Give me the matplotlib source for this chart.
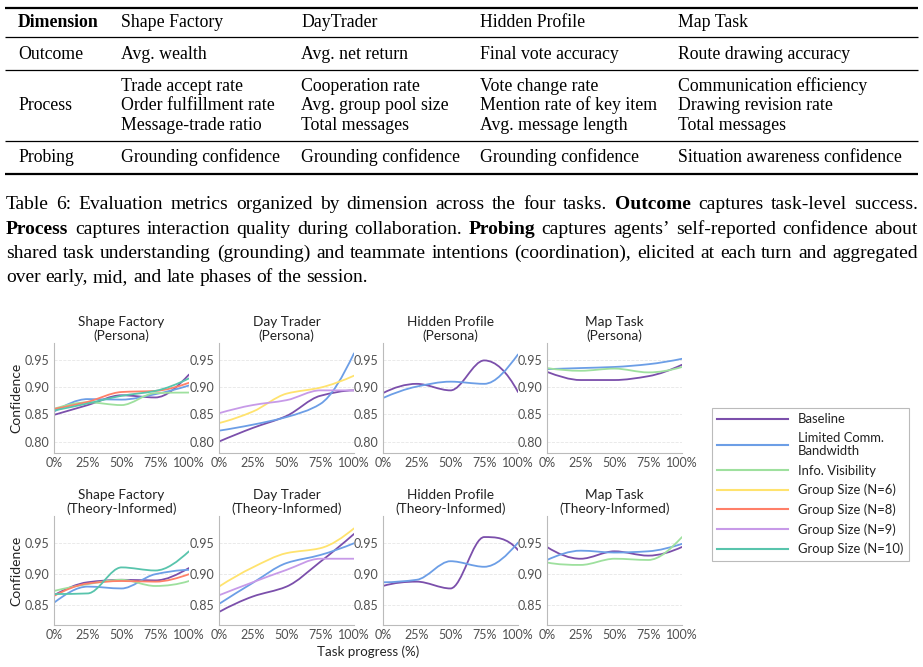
import matplotlib
matplotlib.use("Agg")
import matplotlib.pyplot as plt
import numpy as np
from matplotlib.path import Path
from matplotlib.patches import PathPatch
from matplotlib.lines import Line2D

W, H = 923, 667

# ---- table + caption text ----
table_header = ["Dimension", "Shape Factory", "DayTrader", "Hidden Profile", "Map Task"]
table_outcome = ["Outcome", "Avg. wealth", "Avg. net return", "Final vote accuracy",
                 "Route drawing accuracy"]
table_process = ["Process",
                 ["Trade accept rate", "Order fulfillment rate", "Message-trade ratio"],
                 ["Cooperation rate", "Avg. group pool size", "Total messages"],
                 ["Vote change rate", "Mention rate of key item", "Avg. message length"],
                 ["Communication efficiency", "Drawing revision rate", "Total messages"]]
table_probing = ["Probing", "Grounding confidence", "Grounding confidence",
                 "Grounding confidence", "Situation awareness confidence"]

caption_lines = [
    "Table 6: Evaluation metrics organized by dimension across the four tasks. "
    "**Outcome** captures task-level success.",
    "**Process** captures interaction quality during collaboration. **Probing** captures "
    "agents’ self-reported confidence about",
    "shared task understanding (grounding) and teammate intentions (coordination), "
    "elicited at each turn and aggregated",
    "over early, mid, and late phases of the session.",
]

# ---- chart data ----
progress = [0, 25, 50, 75, 100]
progress_labels = ["0%", "25%", "50%", "75%", "100%"]

cond_keys = ["base", "comm", "info", "n6", "n8", "n9", "n10"]
cond_labels = ["Baseline", "Limited Comm.\nBandwidth", "Info. Visibility",
               "Group Size (N=6)", "Group Size (N=8)", "Group Size (N=9)",
               "Group Size (N=10)"]
cond_colors = ["#7b4fab", "#6c9ee6", "#9ee09e", "#ffe36e", "#ff7f68", "#c79ae8", "#58c4ac"]

shape_persona = {
    "base": [0.849, 0.867, 0.885, 0.881, 0.923],
    "comm": [0.855, 0.878, 0.877, 0.887, 0.903],
    "info": [0.860, 0.872, 0.867, 0.889, 0.890],
    "n8": [0.860, 0.873, 0.891, 0.893, 0.908],
    "n10": [0.857, 0.870, 0.884, 0.893, 0.916],
}
trader_persona = {
    "base": [0.800, 0.825, 0.847, 0.884, 0.894],
    "comm": [0.820, 0.831, 0.845, 0.869, 0.962],
    "n6": [0.834, 0.855, 0.888, 0.899, 0.921],
    "n9": [0.852, 0.867, 0.876, 0.894, 0.894],
}
hidden_persona = {
    "base": [0.889, 0.906, 0.894, 0.949, 0.891],
    "comm": [0.880, 0.901, 0.910, 0.906, 0.960],
}
map_persona = {
    "base": [0.928, 0.913, 0.913, 0.920, 0.941],
    "comm": [0.933, 0.935, 0.937, 0.942, 0.952],
    "info": [0.935, 0.930, 0.934, 0.927, 0.937],
}
shape_theory = {
    "base": [0.866, 0.887, 0.891, 0.890, 0.910],
    "comm": [0.854, 0.880, 0.877, 0.900, 0.907],
    "info": [0.873, 0.884, 0.891, 0.881, 0.889],
    "n8": [0.865, 0.885, 0.889, 0.888, 0.900],
    "n10": [0.868, 0.869, 0.911, 0.906, 0.937],
}
trader_theory = {
    "base": [0.839, 0.864, 0.880, 0.920, 0.965],
    "comm": [0.852, 0.886, 0.918, 0.931, 0.950],
    "n6": [0.880, 0.911, 0.934, 0.942, 0.974],
    "n9": [0.866, 0.887, 0.907, 0.925, 0.925],
}
hidden_theory = {
    "base": [0.881, 0.888, 0.877, 0.960, 0.939],
    "comm": [0.887, 0.891, 0.921, 0.912, 0.951],
}
map_theory = {
    "base": [0.944, 0.925, 0.937, 0.930, 0.944],
    "comm": [0.923, 0.938, 0.935, 0.937, 0.949],
    "info": [0.919, 0.915, 0.925, 0.923, 0.960],
}

panels = [
    ("Shape Factory\n(Persona)", shape_persona),
    ("Day Trader\n(Persona)", trader_persona),
    ("Hidden Profile\n(Persona)", hidden_persona),
    ("Map Task\n(Persona)", map_persona),
    ("Shape Factory\n(Theory-Informed)", shape_theory),
    ("Day Trader\n(Theory-Informed)", trader_theory),
    ("Hidden Profile\n(Theory-Informed)", hidden_theory),
    ("Map Task\n(Theory-Informed)", map_theory),
]
top_yticks = [0.80, 0.85, 0.90, 0.95]
bottom_yticks = [0.85, 0.90, 0.95]


def end_slope(h0, h1, m0, m1):
    d = ((2 * h0 + h1) * m0 - h0 * m1) / (h0 + h1)
    if np.sign(d) != np.sign(m0):
        d = 0.0
    elif np.sign(m0) != np.sign(m1) and abs(d) > abs(3 * m0):
        d = 3 * m0
    return d


def pchip_slopes(x, y):
    # monotone cubic (Fritsch-Carlson) tangents
    x = np.asarray(x, float)
    y = np.asarray(y, float)
    h = np.diff(x)
    m = np.diff(y) / h
    d = np.zeros_like(y)
    for k in range(1, len(y) - 1):
        if m[k - 1] * m[k] > 0:
            w1 = 2 * h[k] + h[k - 1]
            w2 = h[k] + 2 * h[k - 1]
            d[k] = (w1 + w2) / (w1 / m[k - 1] + w2 / m[k])
    d[0] = end_slope(h[0], h[1], m[0], m[1])
    d[-1] = end_slope(h[-1], h[-2], m[-1], m[-2])
    return d


def smooth_line(ax, x, y, color):
    # draw the hermite curve as bezier segments
    d = pchip_slopes(x, y)
    verts = [(x[0], y[0])]
    codes = [Path.MOVETO]
    for k in range(len(x) - 1):
        h = x[k + 1] - x[k]
        verts += [(x[k] + h / 3, y[k] + d[k] * h / 3),
                  (x[k + 1] - h / 3, y[k + 1] - d[k + 1] * h / 3),
                  (x[k + 1], y[k + 1])]
        codes += [Path.CURVE4] * 3
    ax.add_patch(PathPatch(Path(verts, codes), fill=False, edgecolor=color,
                           lw=1.3, capstyle="round", joinstyle="round"))


fig = plt.figure(figsize=(W / 100, H / 100), dpi=100)
fig.patch.set_facecolor("white")

# overlay axes in pixel coords for the table and caption
pax = fig.add_axes([0, 0, 1, 1])
pax.set_xlim(0, W)
pax.set_ylim(H, 0)
pax.axis("off")

serif = "Liberation Serif"
tsize = 12.8
col_x = [18, 121, 301, 480, 678]

for y, lw in [(8, 1.6), (37, 0.9), (70, 0.9), (141, 0.9), (174, 1.6)]:
    pax.plot([5, 918], [y, y], color="black", lw=lw, solid_capstyle="butt")


def table_row(cells, base, bold_first=False):
    for i, (cx, txt) in enumerate(zip(col_x, cells)):
        w = "bold" if (bold_first and i == 0) else "normal"
        pax.text(cx, base, txt, family=serif, fontsize=tsize, fontweight=w,
                 va="baseline", ha="left")


table_row(table_header, 27, bold_first=True)
table_row(table_outcome, 59)
pax.text(col_x[0], 110, table_process[0], family=serif, fontsize=tsize, va="baseline")
for cx, items in zip(col_x[1:], table_process[1:]):
    for j, item in enumerate(items):
        pax.text(cx, 91 + j * 19.5, item, family=serif, fontsize=tsize, va="baseline")
table_row(table_probing, 162)

# caption, justified word by word
csize = 14.0
renderer = fig.canvas.get_renderer()
cap_base = [209, 234, 258, 282]
for li, (line, base) in enumerate(zip(caption_lines, cap_base)):
    words = line.split(" ")
    texts = []
    for wd in words:
        bold = wd.startswith("**")
        t = pax.text(6, base, wd.replace("**", ""), family=serif, fontsize=csize,
                     fontweight="bold" if bold else "normal", va="baseline")
        texts.append(t)
    widths = [t.get_window_extent(renderer).width for t in texts]
    if li < len(caption_lines) - 1:
        gap = (918 - 6 - sum(widths)) / (len(words) - 1)
    else:
        gap = csize * 0.25 * 100 / 72
    xpos = 6
    for t, wdt in zip(texts, widths):
        t.set_x(xpos)
        xpos += wdt + gap

# ---- small multiples ----
plt.rcParams["font.family"] = ["Lato", "DejaVu Sans"]
ax_left = [54, 219, 383, 547]
ax_w = 135
rows = [(343, 453, (0.779, 0.981), top_yticks), (516, 625, (0.818, 0.994), bottom_yticks)]

for idx, (title, series) in enumerate(panels):
    r, c = divmod(idx, 4)
    top, bot, ylim, yticks = rows[r]
    ax = fig.add_axes([ax_left[c] / W, 1 - bot / H, ax_w / W, (bot - top) / H])
    for key, col in zip(cond_keys, cond_colors):
        if key in series:
            smooth_line(ax, progress, series[key], col)
    ax.set_xlim(0, 100)
    ax.set_ylim(*ylim)
    ax.set_xticks(progress)
    ax.set_xticklabels(progress_labels)
    ax.set_yticks(yticks)
    ax.set_yticklabels([f"{v:.2f}" for v in yticks])
    ax.tick_params(length=0, labelsize=9.0, labelcolor="#505050", pad=3)
    for s in ["top", "right"]:
        ax.spines[s].set_visible(False)
    for s in ["left", "bottom"]:
        ax.spines[s].set_color("#bbbbbb")
        ax.spines[s].set_linewidth(0.8)
    ax.grid(axis="y", color="#e6e6e6", lw=0.6, ls="--")
    ax.set_axisbelow(True)
    ax.set_title(title, fontsize=9.8, color="#222222", pad=2, linespacing=1.15)
    if c == 0:
        ax.set_ylabel("Confidence", fontsize=10, color="#222222", labelpad=2)

fig.text(368 / W, 1 - 652 / H, "Task progress (%)", ha="center", va="center",
         fontsize=9.6, color="#222222", family=["Lato", "DejaVu Sans"])

handles = [Line2D([], [], color=col, lw=1.5) for col in cond_colors]
leg = fig.legend(handles, cond_labels, loc="upper left",
                 bbox_to_anchor=(712 / W, 1 - 408 / H), borderaxespad=0,
                 frameon=True, fancybox=False, edgecolor="#aaaaaa",
                 handlelength=5.4, handletextpad=0.8, labelspacing=0.55,
                 borderpad=0.4,
                 prop={"family": ["Lato", "DejaVu Sans"], "size": 9.4})
leg.get_frame().set_linewidth(0.8)
for t in leg.get_texts():
    t.set_color("#222222")
    t.set_linespacing(1.1)

fig.savefig("out.png", dpi=100)
